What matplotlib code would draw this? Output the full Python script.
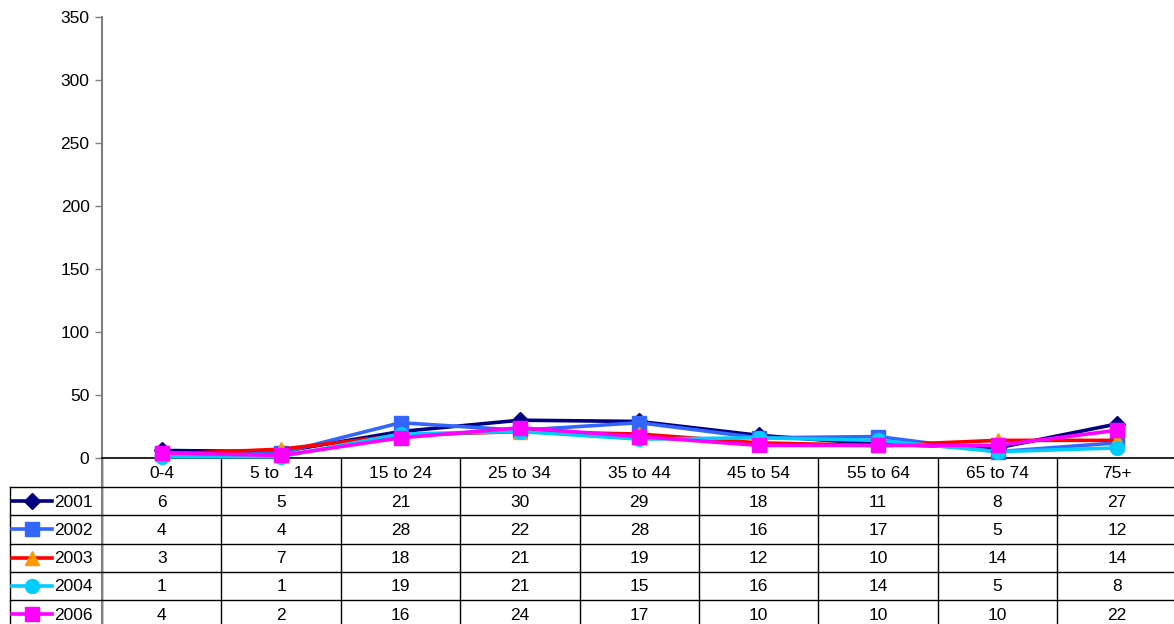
import numpy as np
import matplotlib.pyplot as plt

plt.rcParams['font.family'] = ['Liberation Sans', 'DejaVu Sans']

categories = ['0-4', '5 to   14', '15 to 24', '25 to 34', '35 to 44',
              '45 to 54', '55 to 64', '65 to 74', '75+']
years = ['2001', '2002', '2003', '2004', '2006']
v2001 = [6, 5, 21, 30, 29, 18, 11, 8, 27]
v2002 = [4, 4, 28, 22, 28, 16, 17, 5, 12]
v2003 = [3, 7, 18, 21, 19, 12, 10, 14, 14]
v2004 = [1, 1, 19, 21, 15, 16, 14, 5, 8]
v2006 = [4, 2, 16, 24, 17, 10, 10, 10, 22]
values = [v2001, v2002, v2003, v2004, v2006]

line_colors = ['#000080', '#3366FF', '#FF0000', '#00CCFF', '#FF00FF']
marker_colors = ['#000080', '#3366FF', '#FF9900', '#00CCFF', '#FF00FF']
markers = ['D', 's', '^', 'o', 's']
msizes = [8, 9.5, 10, 10, 9.5]

W, H = 1174, 624
fig = plt.figure(figsize=(W / 100, H / 100), dpi=100)

# layout in pixels
left, top, zero_y = 102, 17, 458
col_w = 119.4
right = left + col_w * len(categories)
head_bottom = 487
row_h = 28.25
fs = 12.5

ax = fig.add_axes([left / W, (H - zero_y) / H, (right - left) / W, (zero_y - top) / H])
x = np.arange(len(categories))
for vals, lc, mc, m, ms in zip(values, line_colors, marker_colors, markers, msizes):
    ax.plot(x, vals, color=lc, lw=2.6, marker=m, ms=ms, mfc=mc, mec=mc,
            clip_on=False, zorder=3)
ax.set_xlim(-0.5, len(categories) - 0.5)
ax.set_ylim(0, 350)
ax.set_yticks(np.arange(0, 351, 50))
ax.set_xticks([])
for s in ['top', 'right']:
    ax.spines[s].set_visible(False)
ax.spines['left'].set_color('#808080')
ax.spines['left'].set_linewidth(1.5)
ax.spines['bottom'].set_color('black')
ax.spines['bottom'].set_linewidth(1.2)
ax.tick_params(axis='y', direction='out', length=5, width=1, color='#808080',
               labelsize=fs, pad=4)

# data table below the plot
tb = fig.add_axes([0, 0, 1, 1], zorder=-1)
tb.set_xlim(0, W)
tb.set_ylim(H, 0)
tb.axis('off')

n_rows = len(years)
bottom = head_bottom + row_h * n_rows + 2
# vertical lines
for i in range(len(categories) + 1):
    xv = left + col_w * i
    tb.plot([xv, xv], [zero_y, bottom], color='black', lw=1)
tb.plot([left, left], [zero_y, bottom], color='#808080', lw=1.5)
tb.plot([9.5, 9.5], [head_bottom, bottom], color='black', lw=1)
# horizontal lines
for j in range(n_rows + 1):
    yh = head_bottom + row_h * j
    tb.plot([9.5, right], [yh, yh], color='black', lw=1)

for i, c in enumerate(categories):
    tb.text(left + col_w * (i + 0.5), (zero_y + head_bottom) / 2 + 1, c,
            ha='center', va='center', fontsize=fs)

for j, (yr, vals) in enumerate(zip(years, values)):
    yc = head_bottom + row_h * (j + 0.5)
    tb.plot([12, 52], [yc, yc], color=line_colors[j], lw=2.6)
    tb.plot([32], [yc], marker=markers[j], ms=msizes[j], color=marker_colors[j],
            mec=marker_colors[j])
    tb.text(54, yc + 1, yr, ha='left', va='center', fontsize=fs)
    for i, v in enumerate(vals):
        tb.text(left + col_w * (i + 0.5), yc + 1, str(v), ha='center',
                va='center', fontsize=fs)

fig.savefig('out.png', dpi=100)
